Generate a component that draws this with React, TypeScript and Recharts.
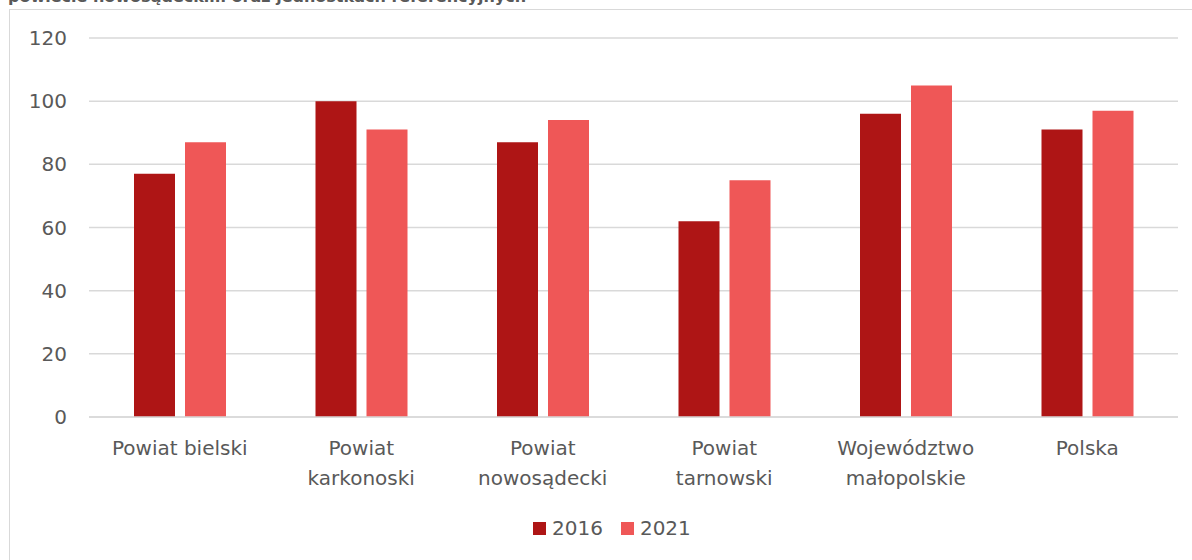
import React from 'react';
import { BarChart, Bar, XAxis, YAxis, CartesianGrid } from 'recharts';

// category labels (\n = line break as in the original)
const categories = [
  'Powiat bielski',
  'Powiat\nkarkonoski',
  'Powiat\nnowosądecki',
  'Powiat\ntarnowski',
  'Województwo\nmałopolskie',
  'Polska',
];
const values2016 = [77, 100, 87, 62, 96, 91];
const values2021 = [87, 91, 94, 75, 105, 97];
const yTicks = [0, 20, 40, 60, 80, 100, 120];

const C2016 = '#AE1515';
const C2021 = '#EF5757';
const TEXT = '#595959';
const FONT = '"DejaVu Sans", sans-serif';

const data = categories.map((name, i) => ({
  name,
  y2016: values2016[i],
  y2021: values2021[i],
}));

const CategoryTick = (props: any) => {
  const { x, y, payload } = props;
  const lines = String(payload.value).split('\n');
  return (
    <g transform={`translate(${x},${y})`}>
      {lines.map((l, i) => (
        <text key={i} x={0} y={30 + i * 30} textAnchor="middle" fill={TEXT} fontSize={20} fontFamily={FONT}>
          {l}
        </text>
      ))}
    </g>
  );
};

export default function App() {
  return (
    <div style={{ position: 'absolute', left: 0, top: 0, width: 1192, height: 560, overflow: 'hidden', background: '#fff' }}>
      {/* title line, cut off at the top of the page as in the original */}
      <div style={{ position: 'absolute', left: 8, top: 0, height: 7, overflow: 'hidden', width: 1000 }}>
        <div style={{ position: 'absolute', top: -11, left: 0, whiteSpace: 'nowrap', fontFamily: FONT, fontWeight: 'bold', fontSize: 16, lineHeight: '16px', color: TEXT }}>
          powiecie nowosądeckim oraz jednostkach referencyjnych
        </div>
      </div>
      <div style={{ position: 'absolute', left: 9, top: 9, width: 1200, height: 600, border: '1px solid #d9d9d9', boxSizing: 'border-box' }} />
      <div style={{ position: 'absolute', left: 0, top: 0 }}>
        <BarChart width={1192} height={560} data={data} margin={{ top: 38, right: 14, left: 0, bottom: 0 }} barSize={41} barGap={10}>
          <CartesianGrid vertical={false} stroke="#d9d9d9" strokeWidth={1.5} />
          <YAxis
            width={89}
            domain={[0, 120]}
            ticks={yTicks}
            axisLine={false}
            tickLine={false}
            tickSize={0}
            tickMargin={22}
            tick={{ fill: TEXT, fontSize: 20, fontFamily: FONT }}
          />
          <XAxis
            dataKey="name"
            height={143}
            axisLine={{ stroke: '#d9d9d9', strokeWidth: 1.5 }}
            tickLine={false}
            interval={0}
            tick={<CategoryTick />}
          />
          <Bar dataKey="y2016" fill={C2016} isAnimationActive={false} />
          <Bar dataKey="y2021" fill={C2021} isAnimationActive={false} />
        </BarChart>
      </div>
      <div style={{ position: 'absolute', top: 516, left: 533, display: 'flex', alignItems: 'center', fontFamily: FONT, fontSize: 20, color: TEXT }}>
        <span style={{ width: 13, height: 13, background: C2016, display: 'inline-block', marginRight: 6 }} />
        <span style={{ marginRight: 18 }}>2016</span>
        <span style={{ width: 13, height: 13, background: C2021, display: 'inline-block', marginRight: 6 }} />
        <span>2021</span>
      </div>
    </div>
  );
}
